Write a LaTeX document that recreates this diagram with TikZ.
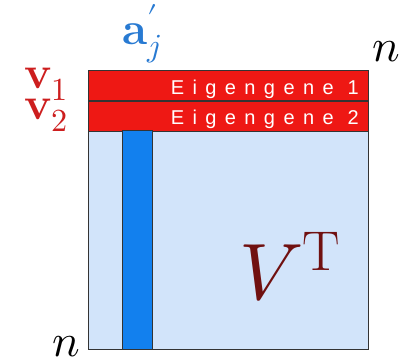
\documentclass[tikz,border=0pt]{standalone}
\usepackage{fontspec}
\usepackage{unicode-math}
\setmathfont{Latin Modern Math}
\newfontfamily\genefont[LetterSpace=42]{Liberation Sans}
\usetikzlibrary{positioning}
\definecolor{rowred}{RGB}{238,24,20}
\definecolor{matblue}{RGB}{210,228,250}
\definecolor{colblue}{RGB}{18,128,238}
\definecolor{lblblue}{RGB}{40,122,210}
\definecolor{lblred}{RGB}{205,30,30}
\definecolor{vtred}{RGB}{112,16,16}
\tikzset{
matbox/.style= {rectangle, draw=black!80, thick, fill=matblue, inner sep=0pt},
generow/.style= {rectangle, draw=black!80, thick, fill=rowred, inner sep=0pt},
genecol/.style= {rectangle, draw=black!80, thick, fill=colblue, inner sep=0pt},
genetext/.style= {text=white, font=\genefont\fontsize{20}{20}\selectfont, inner sep=0pt, anchor=base east},
biglabel/.style= {inner sep=0pt, anchor=base, font=\fontsize{46}{46}\selectfont}
}

\begin{document}
\begin{tikzpicture}[x=1pt,y=-1pt]
\useasboundingbox (0,0) rectangle (416,361);

% the matrix and its rows
\node[matbox, minimum width=280pt, minimum height=279pt, anchor=north west] (vt) at (88,70) {};
\node[generow, minimum width=280pt, minimum height=30pt, anchor=north west] (row1) at (vt.north west) {};
\node[generow, minimum width=280pt, minimum height=30pt, anchor=north west] (row2) at (row1.south west) {};
\node[genecol, minimum width=30pt, minimum height=219pt, anchor=north west] (col) at (122,130) {};

% texts in the rows
\node[genetext] (t1) at (359,95) {Eigengene 1};
\node[genetext] (t2) at (359,125) {Eigengene 2};

% labels round the matrix
\node[biglabel, text=lblblue] (aj) at (142,45) {$\mathbf{a}'_j$};
\node[biglabel, text=lblred] (v1) at (46,89) {$\mathbf{v}_1$};
\node[biglabel, text=lblred] (v2) at (46,120) {$\mathbf{v}_2$};
\node[biglabel] (ntop) at (386,62) {$n$};
\node[biglabel] (nbot) at (66,356) {$n$};
\node[inner sep=0pt, anchor=base, text=vtred, font=\fontsize{80}{80}\selectfont] (vtlabel) at (290,300) {$V^{\mathrm{T}}$};

\end{tikzpicture}
\end{document}
